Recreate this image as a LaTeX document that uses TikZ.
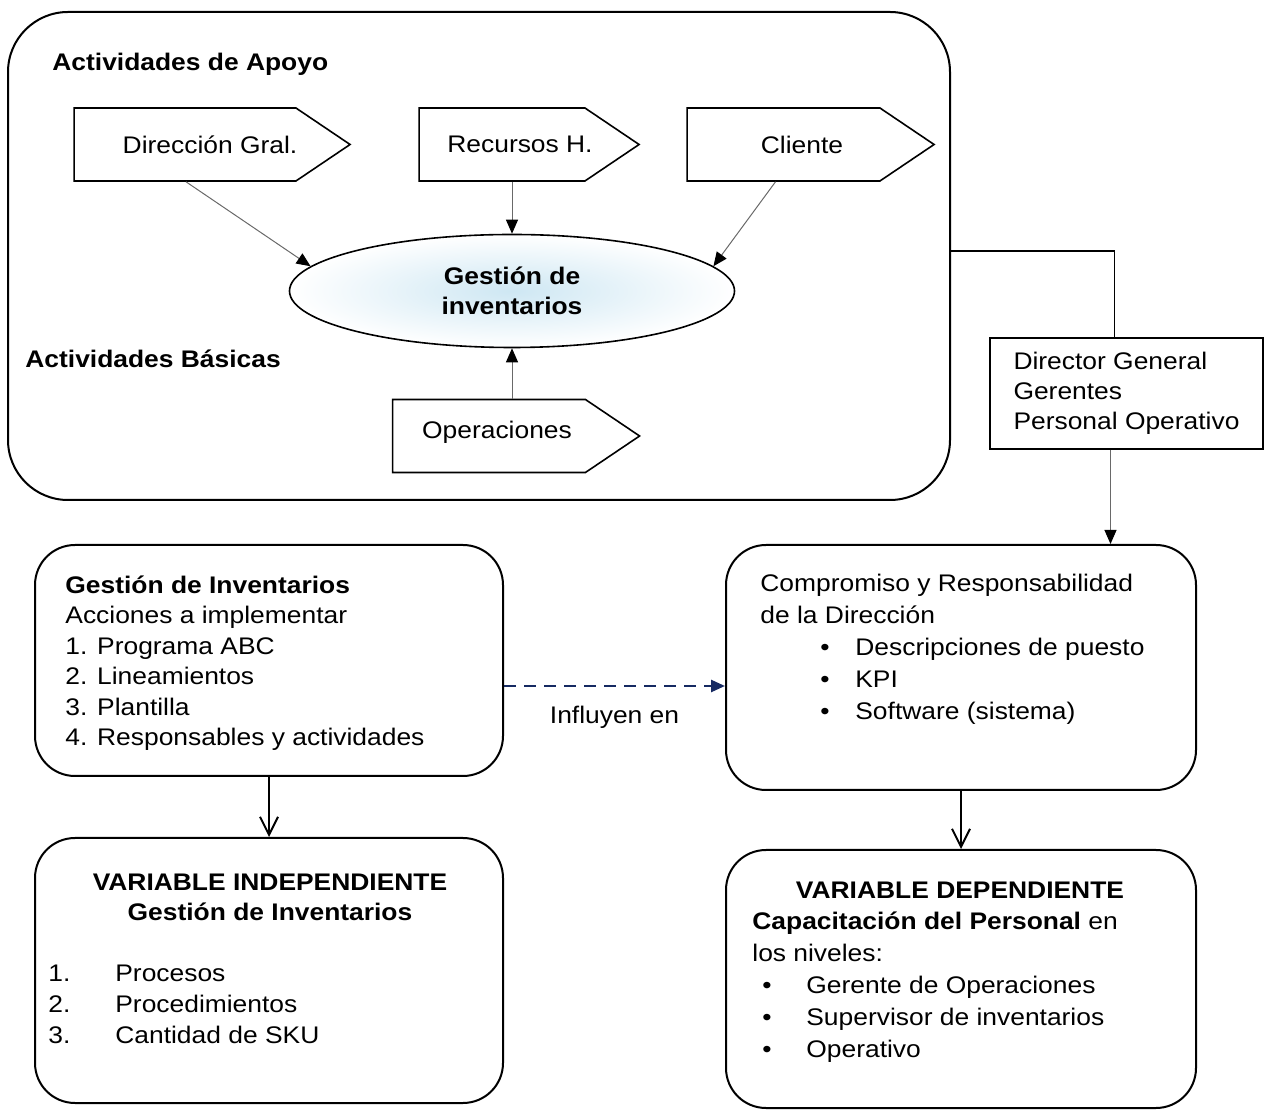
\documentclass[tikz,border=0pt]{standalone}
\usepackage{fontspec}
\setmainfont{Liberation Sans}[FakeStretch=1.1]
\usetikzlibrary{arrows.meta,positioning,calc,shapes.geometric,shapes.symbols}
\definecolor{invblue}{RGB}{206,231,243}
\definecolor{invnavy}{RGB}{22,42,98}
\definecolor{invgray}{RGB}{105,105,105}
\tikzset{
  txt/.style={inner sep=0pt, align=left, text=black, font=\fontsize{12}{15.3}\selectfont},
  roundbox/.style={draw, line width=1pt, rounded corners=20pt},
  bigbox/.style={draw, line width=1pt, rounded corners=30pt},
  tagbox/.style={signal, signal to=east, signal pointer angle=68, draw, line width=0.8pt,
    minimum height=36.5pt, inner sep=0pt, font=\fontsize{12}{15}\selectfont},
  plainbox/.style={draw, line width=0.8pt, align=left, inner sep=0pt,
    font=\fontsize{12}{15}\selectfont},
  thinarr/.style={-{Triangle[length=7pt,width=6pt,color=black]}, invgray, line width=0.5pt},
  downarr/.style={-{Straight Barb[length=9pt,width=9pt]}, line width=1pt},
  dasharr/.style={-{Triangle[length=7pt,width=6pt]}, invnavy, line width=1.3pt,
    dash pattern=on 6pt off 4pt}
}

\begin{document}
\begin{tikzpicture}[x=0.5pt,y=-0.5pt]
  \useasboundingbox (0,0) rectangle (1264,1111);

  \node[bigbox, minimum width=471pt, minimum height=244pt] (sup) at (479,256) {};
  \node[txt, anchor=west, font=\fontsize{12}{15}\selectfont\bfseries] (apoyo) at (52,64) {Actividades de Apoyo};
  \node[txt, anchor=west, font=\fontsize{12}{15}\selectfont\bfseries] (basic) at (25,359) {Actividades Básicas};

  \node[tagbox, minimum width=138pt] (dir) at (185,144.5) {\hspace*{23.5pt}\raisebox{-8pt}{Dirección Gral.}\hspace*{-1.5pt}};
  \node[tagbox, minimum width=110pt] (rh) at (502,144.5) {\hspace*{14pt}Recursos H.\hspace*{-4pt}};
  \node[tagbox, minimum width=123.5pt] (cli) at (783.5,144.5) {\hspace*{18.5pt}Cliente};
  \node[tagbox, minimum width=123.5pt] (op) at (489,436) {\hspace*{8pt}\raisebox{6pt}{Operaciones}};

  \node[ellipse, draw, line width=0.8pt, minimum width=222.5pt, minimum height=56.5pt, inner sep=0pt,
    inner color=invblue, outer color=white, align=center,
    font=\fontsize{12}{15}\selectfont\bfseries] (gest) at (512,291) {Gestión de\\inventarios};

  \draw[thinarr] ($(dir.south)+(1,0)$) -- (gest.173);
  \draw[thinarr] (rh.south -| gest.north) -- (gest.north);
  \draw[thinarr] ($(cli.south)+(-8,0)$) -- (gest.7);
  \draw[thinarr] (op.north -| gest.south) -- (gest.south);

  \node[plainbox, minimum width=136.5pt, minimum height=55.5pt] (dg) at (1126.5,393.5)
    {Director General\\Gerentes\\Personal Operativo};
  \draw[line width=0.8pt] ($(sup.east)+(0,-5)$) -| ($(dg.north)+(-12,0)$);

  \node[roundbox, minimum width=235pt, minimum height=122.5pt] (comp) at (961,667.5) {};
  \node[txt, anchor=north west, font=\fontsize{12}{16}\selectfont] (comptxt) at (760,574)
    {Compromiso y Responsabilidad\\de la Dirección\\
     \makebox[47.5pt][l]{\hspace{30pt}\textbullet}Descripciones de puesto\\
     \makebox[47.5pt][l]{\hspace{30pt}\textbullet}KPI\\
     \makebox[47.5pt][l]{\hspace{30pt}\textbullet}Software (sistema)};
  \draw[thinarr] ($(dg.south)+(-16,0)$) coordinate (dgs) -- (dgs |- comp.north);

  \node[roundbox, minimum width=234pt, minimum height=115.5pt] (gi) at (269,660.5) {};
  \node[txt, anchor=north west] (gitxt) at (65,575)
    {\textbf{Gestión de Inventarios}\\Acciones a implementar\\1. Programa ABC\\2. Lineamientos\\3. Plantilla\\4. Responsables y actividades};

  \draw[dasharr] ($(gi.east)+(0,25.5)$) coordinate (gie) -- (gie -| comp.west)
    node[midway, below=9.5pt, txt] (infl) {Influyen en};

  \node[roundbox, minimum width=234pt, minimum height=132.5pt] (vi) at (269,970.5) {};
  \node[txt, align=center, font=\fontsize{12}{15}\selectfont\bfseries] (vihead) at (270,897)
    {VARIABLE INDEPENDIENTE\\Gestión de Inventarios};
  \node[txt, anchor=north west, font=\fontsize{12}{15.5}\selectfont] (vilist) at (48,965)
    {\makebox[33.5pt][l]{1.}Procesos\\\makebox[33.5pt][l]{2.}Procedimientos\\\makebox[33.5pt][l]{3.}Cantidad de SKU};
  \draw[downarr] (gi.south) -- (vi.north);

  \node[roundbox, minimum width=235pt, minimum height=129pt] (vd) at (961,979) {};
  \node[txt, font=\fontsize{12}{15}\selectfont\bfseries] (vdhead) at (960,890) {VARIABLE DEPENDIENTE};
  \node[txt, anchor=north west, font=\fontsize{12}{16}\selectfont] (vdlist) at (752,911)
    {\textbf{Capacitación del Personal} en\\los niveles:\\
     \makebox[27pt][l]{\hspace{5pt}\textbullet}Gerente de Operaciones\\
     \makebox[27pt][l]{\hspace{5pt}\textbullet}Supervisor de inventarios\\
     \makebox[27pt][l]{\hspace{5pt}\textbullet}Operativo};
  \draw[downarr] (comp.south) -- (vd.north);
\end{tikzpicture}
\end{document}
